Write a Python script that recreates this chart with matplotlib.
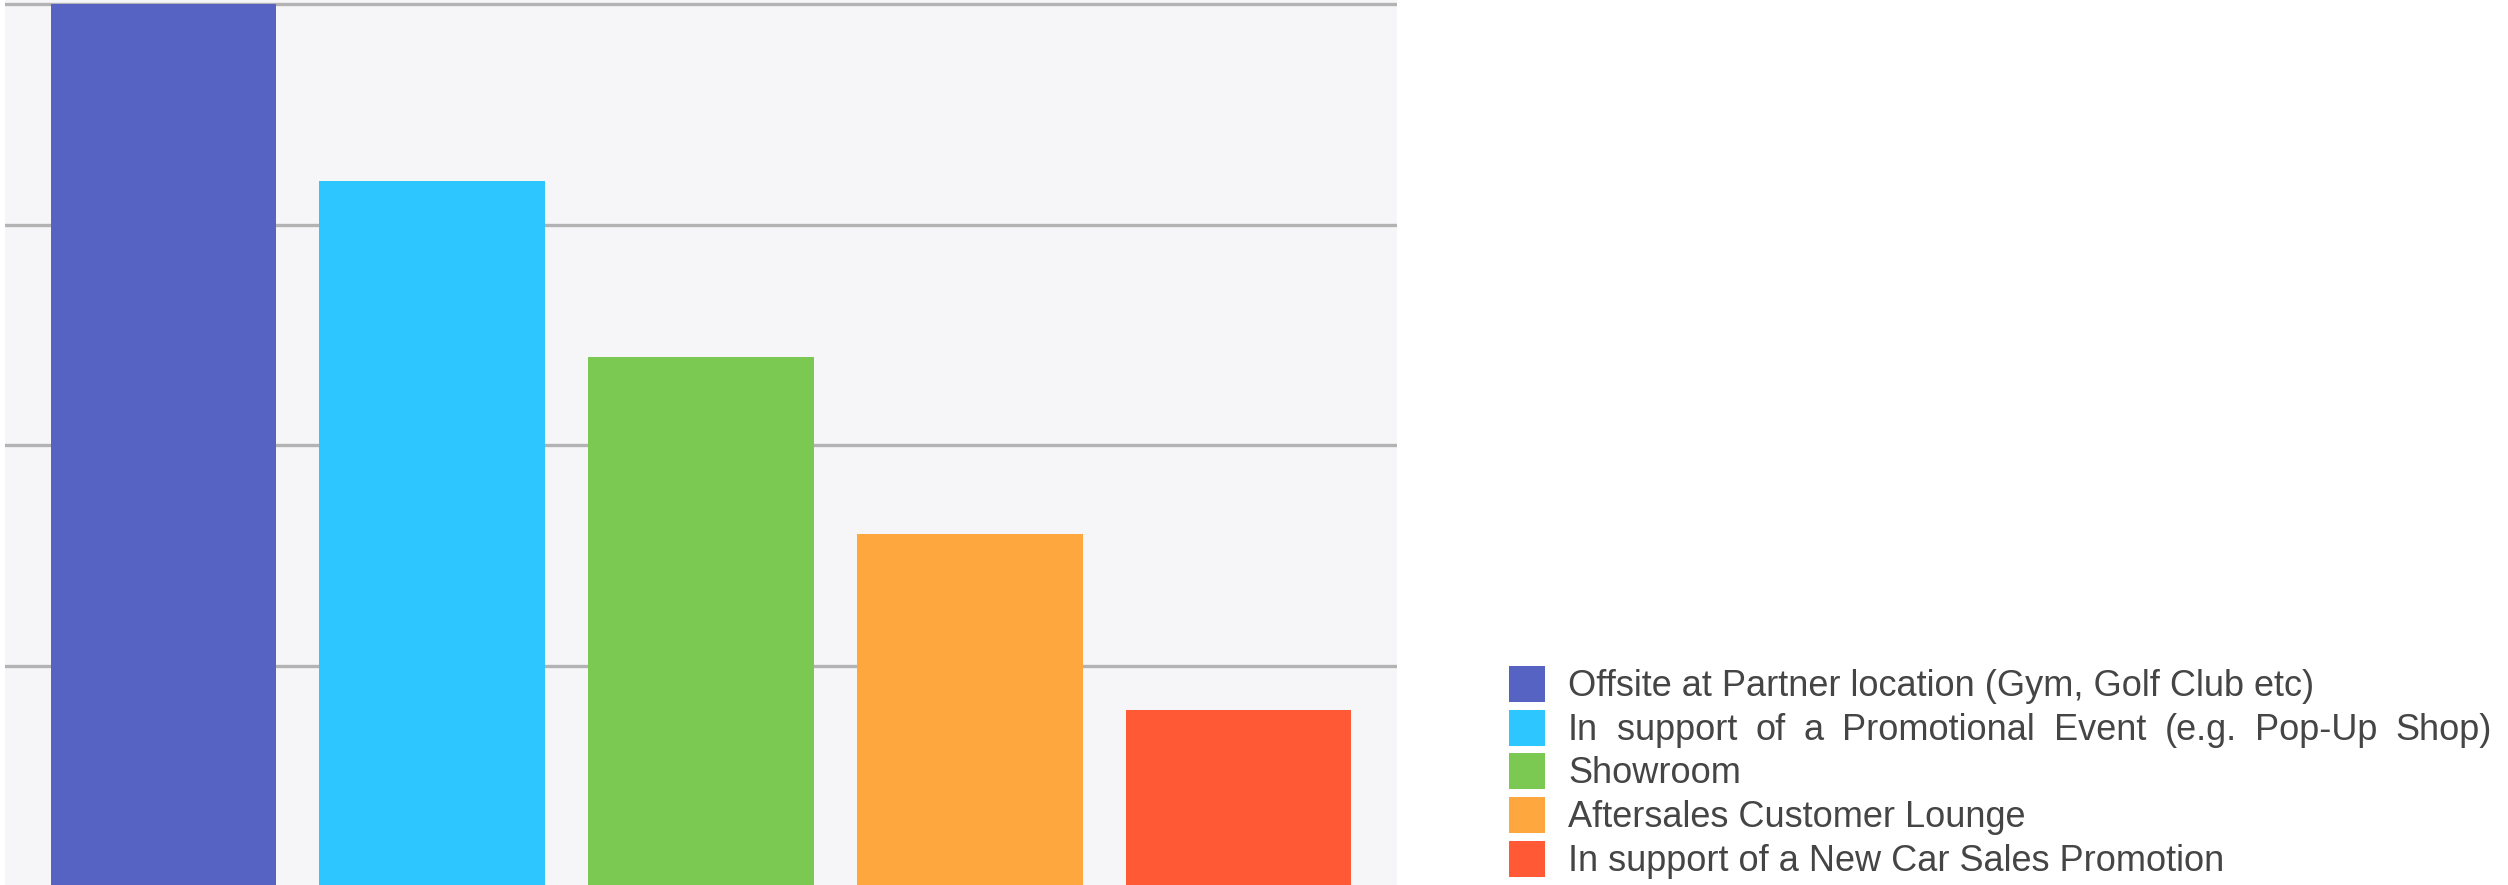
import matplotlib
matplotlib.use("Agg")
import matplotlib.pyplot as plt
from matplotlib.patches import Rectangle

# Data
categories = [
    "Offsite at Partner location (Gym, Golf Club etc)",
    "In support of a Promotional Event (e.g. Pop-Up Shop)",
    "Showroom",
    "Aftersales Customer Lounge",
    "In support of a New Car Sales Promotion",
]
values = [5, 4, 3, 2, 1]
grid_values = [1.25, 2.5, 3.75, 5]
colors = ["#5763C2", "#2DC6FF", "#7BC952", "#FFA73F", "#FF5A35"]

W, H = 2508, 885
fig = plt.figure(figsize=(W / 100, H / 100), dpi=100)
fig.patch.set_facecolor("white")

# Plot area in pixel terms
left_px, right_px = 5, 1397
top_px, zero_px = 0, 886.7
ax = fig.add_axes([left_px / W, (H - zero_px) / H,
                   (right_px - left_px) / W, (zero_px - top_px) / H])
ax.set_facecolor("#F6F6F9")
ax.set_xlim(-0.59, len(values) - 1 + 0.59)
ax.set_ylim(0, 5.023)

x = list(range(len(values)))
ax.bar(x, values, width=0.84, color=colors, zorder=3)

ax.set_yticks(grid_values)
ax.set_xticks([])
ax.yaxis.grid(True, color="#B3B3B3", linewidth=2.4, zorder=1)
ax.tick_params(axis="y", length=0, labelleft=False)
for s in ax.spines.values():
    s.set_visible(False)

# Legend drawn in pixel coordinates
font = dict(family="Liberation Sans", size=26, color="#454545")
sq = 36
sq_x = 1509
text_x = 1568
row_centers = [684, 728, 771, 815, 859]
cap_half = 12
justify_right = 2492

fig.canvas.draw()
renderer = fig.canvas.get_renderer()

for i, (label, c, yc) in enumerate(zip(categories, colors, row_centers)):
    fig.patches.append(Rectangle((sq_x / W, (H - yc - sq / 2) / H), sq / W, sq / H,
                                 transform=fig.transFigure, facecolor=c,
                                 edgecolor="none", figure=fig))
    base_y = (H - (yc + cap_half)) / H
    if i == 1:
        # justified line: spread words to fill the legend width
        words = label.split(" ")
        widths = []
        for w in words:
            t = fig.text(0, 0, w, **font)
            bb = t.get_window_extent(renderer)
            widths.append(bb.width)
            t.remove()
        gap = (justify_right - text_x - sum(widths)) / (len(words) - 1)
        xp = text_x
        for w, wd in zip(words, widths):
            fig.text(xp / W, base_y, w, ha="left", va="baseline", **font)
            xp += wd + gap
    else:
        fig.text(text_x / W, base_y, label, ha="left", va="baseline", **font)

fig.savefig("out.png", dpi=100, facecolor="white")
